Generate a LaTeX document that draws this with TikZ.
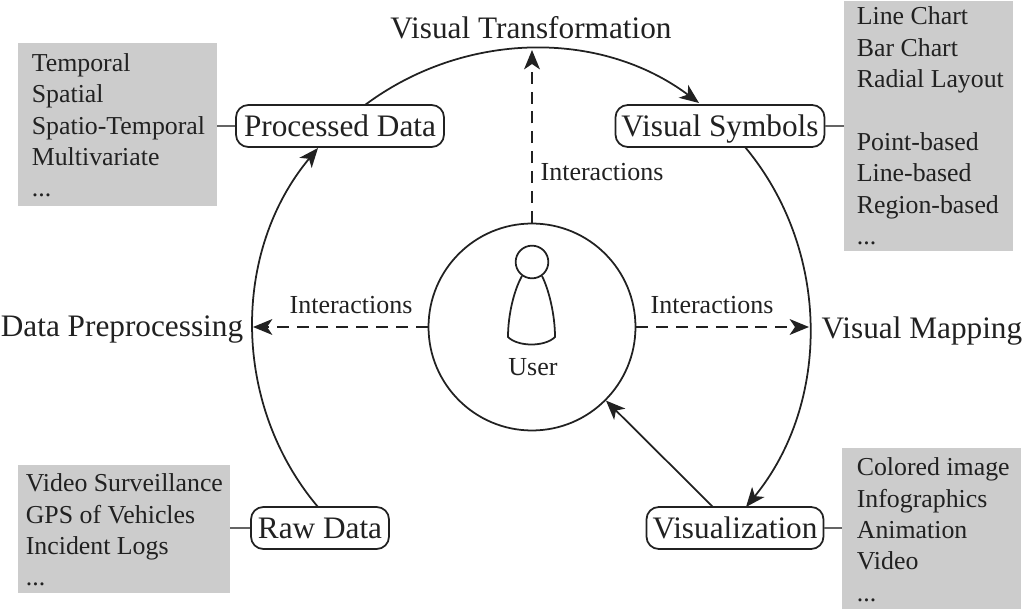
\documentclass[tikz,border=0pt]{standalone}
\usepackage{fontspec}
\setmainfont{Liberation Serif}
\usepackage{xcolor}
\usetikzlibrary{arrows.meta, positioning, calc, shapes.geometric}
\definecolor{listgray}{gray}{0.8}
\definecolor{inkgray}{gray}{0.13}
\tikzset{
  stagebox/.style={draw=inkgray, line width=1pt, rounded corners=7pt, fill=white, inner sep=0pt, minimum height=0.84cm, text height=13.9pt, text depth=2.1pt, font=\fontsize{17.8}{20}\selectfont},
  listtext/.style={anchor=north west, align=left, inner sep=0pt, font=\fontsize{14.7}{17.87}\selectfont},
  steplabel/.style={font=\fontsize{17.8}{20}\selectfont, inner sep=0pt},
  actlabel/.style={font=\fontsize{14.8}{18}\selectfont, inner sep=0pt},
  flow/.style={line width=1pt, draw=inkgray, -{Stealth[length=11pt,width=9pt,inset=3pt]}},
  act/.style={line width=1pt, draw=inkgray, dash pattern=on 6.8pt off 4.5pt, -{Stealth[length=11pt,width=9pt,inset=3pt]}},
  listlink/.style={draw=inkgray!70, semithick}
}
\begin{document}
\begin{tikzpicture}[x=0.02cm, y=-0.02cm, text=inkgray]
  \useasboundingbox (0,0) rectangle (1025,611);
  % Grey lists
  \fill[listgray] (18,43) rectangle (217,206);
  \fill[listgray] (844,1) rectangle (1013,251);
  \fill[listgray] (18,465) rectangle (230,593);
  \fill[listgray] (842,448) rectangle (1021,609);
  \node[listtext] (tl) at (31.5,53) {Temporal\\Spatial\\Spatio-Temporal\\Multivariate\\...};
  \node[listtext] (tr) at (856.5,6.5) {Line Chart\\Bar Chart\\Radial Layout\\[17.87pt]Point-based\\Line-based\\Region-based\\...};
  \node[listtext] (bl) at (25.5,473.5) {Video Surveillance\\GPS of Vehicles\\Incident Logs\\...};
  \node[listtext] (br) at (856.5,457.5) {Colored image\\Infographics\\Animation\\Video\\...};

  % Stages
  \node[stagebox, minimum width=4.16cm] (processed) at (340,126) {Processed Data};
  \node[stagebox, minimum width=4.18cm] (symbols) at (720,126) {Visual Symbols};
  \node[stagebox, minimum width=2.76cm] (raw) at (320,528) {Raw Data};
  \node[stagebox, minimum width=3.54cm] (vis) at (735,528) {Visualization};

  % User
  \node[circle, draw=inkgray, line width=1pt, minimum size=4.14cm, inner sep=0pt] (user) at (532,327) {};
  \node[circle, draw=inkgray, line width=1pt, minimum size=0.654cm, inner sep=0pt] (head) at (532,262) {};
  \draw[line width=1pt, draw=inkgray] (522,276) .. controls (514,290) and (508,315) .. (508,337)
    .. controls (518,347) and (545,347) .. (555,337)
    .. controls (555,315) and (549,290) .. (542,276);
  \node[actlabel] (userlabel) at (533,367) {User};

  % Stage names
  \node[steplabel] (trans) at (531,28) {Visual Transformation};
  \node[steplabel] (prep) at (122,330) {Data Preprocessing};
  \node[steplabel] (map) at (922,331) {Visual Mapping};

  % Cycle
  \draw[flow] (318,507) .. controls (231,404) and (232,251) .. (318,148);
  \draw[flow] (365,105) .. controls (464,31) and (600,29) .. (699,103);
  \draw[flow] (745,147) .. controls (831,250) and (831,403) .. (746,507);
  \draw[flow] (713,507) -- (user);

  % Interactions
  \coordinate (arcl) at (253,327);
  \coordinate (arcr) at (809,327);
  \coordinate (arct) at (532,50);
  \draw[act] (user) -- (arct);
  \draw[act] (user) -- (arcl);
  \draw[act] (user) -- (arcr);
  \node[actlabel] (intt) at (602,172) {Interactions};
  \node[actlabel] (intl) at (351,305) {Interactions};
  \node[actlabel] (intr) at (712,305) {Interactions};

  % List links
  \draw[listlink] (217,126) -- (processed);
  \draw[listlink] (844,126) -- (symbols);
  \draw[listlink] (230,528) -- (raw);
  \draw[listlink] (842,528) -- (vis);
\end{tikzpicture}
\end{document}
